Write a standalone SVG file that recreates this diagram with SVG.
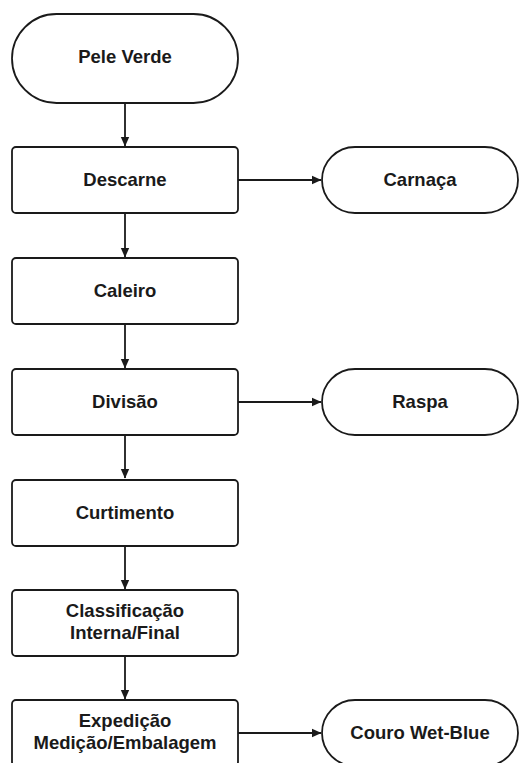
<svg xmlns="http://www.w3.org/2000/svg" width="520" height="763" viewBox="0 0 520 763">
<style>
.box{fill:#fff;stroke:#1a1a1a;stroke-width:1.8}
.t{font-family:"Liberation Sans",Arial,sans-serif;font-weight:bold;font-size:18.5px;fill:#1a1a1a;text-anchor:middle}
.c{stroke:#1a1a1a;stroke-width:1.8;fill:none;marker-end:url(#ah)}
</style>
<defs>
<marker id="ah" markerWidth="10" markerHeight="10" refX="9" refY="5" orient="auto" markerUnits="userSpaceOnUse">
<path d="M0,0.8 L9.5,5 L0,9.2 Z" fill="#1a1a1a"/>
</marker>
</defs>
<rect width="520" height="763" fill="#fff"/>
<g id="connectors">
<line class="c" x1="125" y1="103" x2="125" y2="146"/>
<line class="c" x1="125" y1="213" x2="125" y2="257"/>
<line class="c" x1="125" y1="324" x2="125" y2="368"/>
<line class="c" x1="125" y1="435" x2="125" y2="478"/>
<line class="c" x1="125" y1="546" x2="125" y2="589"/>
<line class="c" x1="125" y1="656" x2="125" y2="699"/>
<line class="c" x1="238" y1="180" x2="321" y2="180"/>
<line class="c" x1="238" y1="402" x2="321" y2="402"/>
<line class="c" x1="238" y1="733" x2="321" y2="733"/>
</g>
<g id="pele-verde">
<rect class="box" x="12" y="14" width="226" height="89" rx="44.5"/>
<text class="t" x="125" y="63">Pele Verde</text>
</g>
<g id="descarne">
<rect class="box" x="12" y="147" width="226" height="66" rx="4"/>
<text class="t" x="125" y="186">Descarne</text>
</g>
<g id="carnaca">
<rect class="box" x="322" y="147" width="196" height="66" rx="33"/>
<text class="t" x="420" y="186">Carnaça</text>
</g>
<g id="caleiro">
<rect class="box" x="12" y="258" width="226" height="66" rx="4"/>
<text class="t" x="125" y="297">Caleiro</text>
</g>
<g id="divisao">
<rect class="box" x="12" y="369" width="226" height="66" rx="4"/>
<text class="t" x="125" y="408">Divisão</text>
</g>
<g id="raspa">
<rect class="box" x="322" y="369" width="196" height="66" rx="33"/>
<text class="t" x="420" y="408">Raspa</text>
</g>
<g id="curtimento">
<rect class="box" x="12" y="480" width="226" height="66" rx="4"/>
<text class="t" x="125" y="519">Curtimento</text>
</g>
<g id="classificacao">
<rect class="box" x="12" y="590" width="226" height="66" rx="4"/>
<text class="t" x="125" y="617">Classificação</text>
<text class="t" x="125" y="639">Interna/Final</text>
</g>
<g id="expedicao">
<rect class="box" x="12" y="700" width="226" height="66" rx="4"/>
<text class="t" x="125" y="727">Expedição</text>
<text class="t" x="125" y="749">Medição/Embalagem</text>
</g>
<g id="couro-wet-blue">
<rect class="box" x="322" y="700" width="196" height="66" rx="33"/>
<text class="t" x="420" y="739">Couro Wet-Blue</text>
</g>
</svg>
